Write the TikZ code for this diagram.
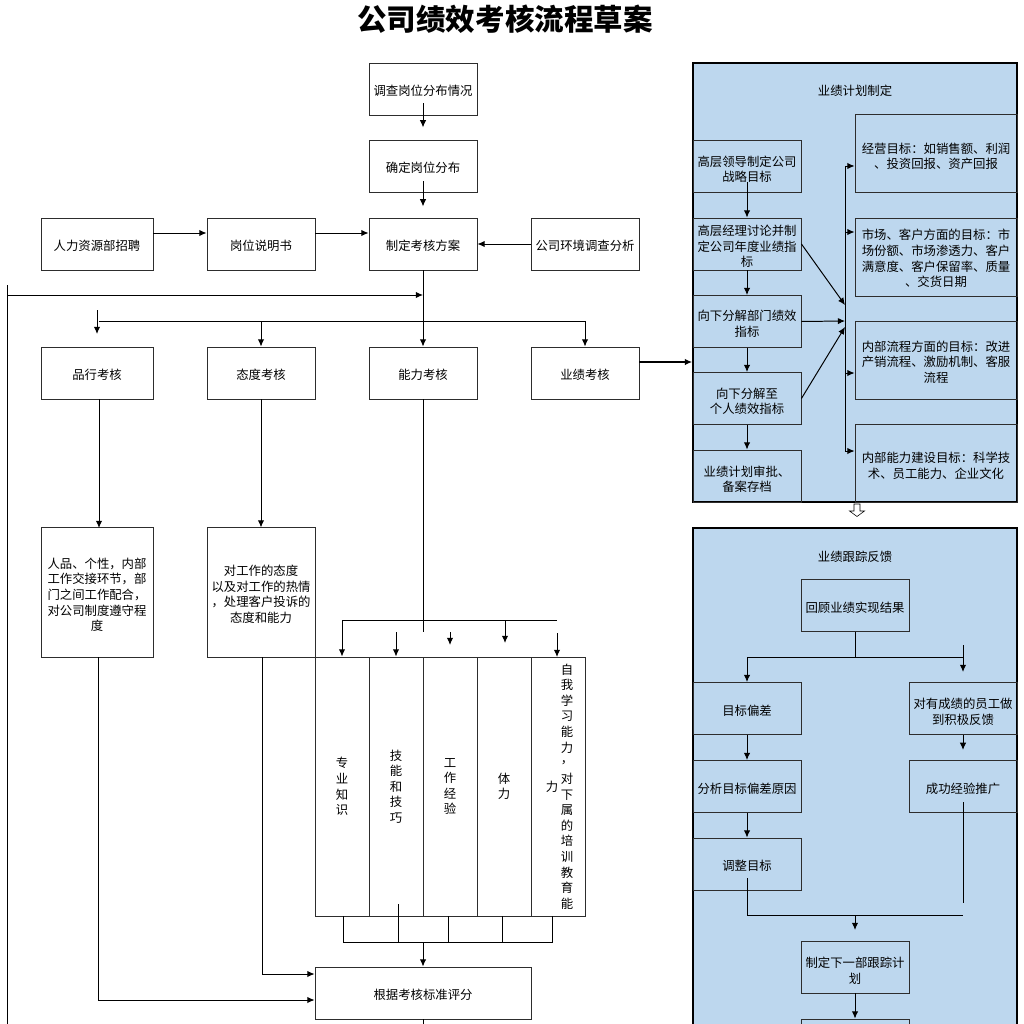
\documentclass[tikz,border=0pt]{standalone}
\usepackage{fontspec}
\setmainfont{Noto Sans CJK SC}
\usetikzlibrary{arrows.meta}
\definecolor{panelblue}{RGB}{189,215,238}
\definecolor{edgegray}{RGB}{45,45,45}
\tikzset{
  lift/.style={execute at begin node={\rule{0pt}{#1pt}}},
  box/.style={draw=edgegray,line width=0.6pt,minimum width=2.7cm,minimum height=1.3cm,inner sep=0pt,align=center,font=\fontsize{8.8}{11.1}\selectfont,lift=10.5},
  widebox/.style={box,minimum width=2.8cm},
  tallbox/.style={box,minimum height=3.23cm},
  colbox/.style={box,minimum width=1.35cm,minimum height=6.475cm},
  goalbox/.style={box,minimum width=4.05cm,minimum height=1.95cm},
  panel/.style={draw=black,line width=1.1pt,fill=panelblue,minimum width=8.1cm,inner sep=0pt},
  arr/.style={-{Latex[length=1.8mm,width=1.6mm]},line width=0.7pt,black},
  wire/.style={line width=0.7pt,black}
}
\begin{document}
\begin{tikzpicture}[x=0.025cm,y=-0.025cm]
  \useasboundingbox (0,0) rectangle (1024,1024);
  \clip (0,0) rectangle (1024,1024);
  \node[font=\fontsize{21}{24}\selectfont\bfseries] (title) at (505,19) {公司绩效考核流程草案};

  % blue panels
  \node[panel,minimum height=10.975cm] (planpanel) at (855,282.5) {};
  \node[panel,minimum height=16cm] (trackpanel) at (855,848) {};
  \node[font=\fontsize{8.8}{11.1}\selectfont] (plantitle) at (855,91) {业绩计划制定};
  \node[font=\fontsize{8.8}{11.1}\selectfont] (tracktitle) at (855,557) {业绩跟踪反馈};
  \draw[fill=white,line width=0.4pt] (854,504) -- (860,504) -- (860,511) -- (864.5,511) -- (857,516.5) -- (849.5,511) -- (854,511) -- cycle;

  % top of the flow
  \node[box] (survey) at (423,89) {调查岗位分布情况};
  \node[box] (confirm) at (423,166) {确定岗位分布};
  \node[widebox] (hire) at (97,244) {人力资源部招聘};
  \node[box] (jobdoc) at (261,244) {岗位说明书};
  \node[box] (scheme) at (423,244) {制定考核方案};
  \node[box] (enviro) at (585,244) {公司环境调查分析};

  % four kinds of assessment
  \node[widebox] (moral) at (97,373) {品行考核};
  \node[box] (attitude) at (261,373) {态度考核};
  \node[box] (ability) at (423,373) {能力考核};
  \node[box] (result) at (585,373) {业绩考核};
  \node[widebox,minimum height=3.23cm,lift=55] (moraltext) at (97,592.5) {人品、个性，内部\\工作交接环节，部\\门之间工作配合，\\对公司制度遵守程\\度};
  \node[tallbox,lift=43.5] (attitudetext) at (261,592.5) {对工作的态度\\以及对工作的热情\\，处理客户投诉的\\态度和能力};

  % ability columns
  \node[colbox] (colA) at (342,786.5) {专\\业\\知\\识};
  \node[colbox] (colB) at (396,786.5) {技\\能\\和\\技\\巧};
  \node[colbox] (colC) at (450,786.5) {工\\作\\经\\验};
  \node[colbox] (colD) at (504,786.5) {体\\力};
  \node[colbox] (colE) at (558,786.5) {};
  \node[align=center,inner sep=0pt,font=\fontsize{8.8}{11.1}\selectfont] (colEtext) at (567,786.5) {自\\我\\学\\习\\能\\力\\\raisebox{0.1cm}{，}\\对\\下\\属\\的\\培\\训\\教\\育\\能};
  \node[inner sep=0pt,font=\fontsize{8.8}{11.1}\selectfont] (colEtail) at (552,787) {力};
  \node[box,minimum width=5.4cm] (score) at (423,993) {根据考核标准评分};

  % planning panel
  \node[box,lift=23] (lead) at (747,166) {高层领导制定公司\\战略目标};
  \node[box,lift=33] (manager) at (747,244) {高层经理讨论并制\\定公司年度业绩指\\标};
  \node[box,lift=22] (dept) at (747,321.5) {向下分解部门绩效\\指标};
  \node[box,lift=22.5] (person) at (747,398.5) {向下分解至\\个人绩效指标};
  \node[box,lift=23] (archive) at (747,476) {业绩计划审批、\\备案存档};
  \node[goalbox,lift=23] (goalA) at (936,153) {经营目标：如销售额、利润\\、投资回报、资产回报};
  \node[goalbox,lift=43] (goalB) at (936,257) {市场、客户方面的目标：市\\场份额、市场渗透力、客户\\满意度、客户保留率、质量\\、交货日期};
  \node[goalbox,lift=32] (goalC) at (936,360.5) {内部流程方面的目标：改进\\产销流程、激励机制、客服\\流程};
  \node[goalbox,lift=22] (goalD) at (936,463.5) {内部能力建设目标：科学技\\术、员工能力、企业文化};

  % tracking panel
  \node[box] (review) at (855,605.5) {回顾业绩实现结果};
  \node[box] (gap) at (747,708.5) {目标偏差};
  \node[box] (cause) at (747,786.5) {分析目标偏差原因};
  \node[box] (adjust) at (747,864) {调整目标};
  \node[box,lift=23] (praise) at (963,708.5) {对有成绩的员工做\\到积极反馈};
  \node[box] (spread) at (963,786.5) {成功经验推广};
  \node[box,lift=23.5] (nextplan) at (855,967) {制定下一部跟踪计\\划};
  \node[box] (nextbox) at (855,1045) {};

  % connectors of the flow
  \draw[arr] (survey.south) ++(0,-12) -- ++(0,24);
  \draw[arr] (confirm.south) ++(0,-11) -- ++(0,25);
  \draw[arr] (hire.east |- 233,233) -- (jobdoc.west |- 233,233);
  \draw[arr] (jobdoc.east |- 233,233) -- (scheme.west |- 233,233);
  \draw[arr] (enviro.west) -- (scheme.east);
  \coordinate (busleft) at (99,321);
  \coordinate (busright) at (585,321);
  \coordinate (loopend) at (423,295);
  \draw[arr] (scheme.south) -- (ability.north);
  \draw[wire] (busleft) -- (busright);
  \draw[arr] (busright) -- (result.north);
  \draw[arr] (attitude.north |- busleft) -- (attitude.north);
  \draw[arr] (97,310) -- (97,334);
  \draw[wire] (7,1030) -- (7,285);
  \draw[arr] (7,295) -- (loopend);
  \draw[arr,line width=1.4pt] (result.east) ++(0,-11) -- (planpanel.west |- 639,362);
  \draw[arr] (99,399) -- (99,528);
  \draw[arr] (attitude.south) -- (attitudetext.north);

  % feed into the columns
  \draw[wire] (ability.south) -- (423,632);
  \draw[wire] (342,620) -- (557,620);
  \draw[arr] (342,620) -- (colA.north);
  \draw[arr] (396,632) -- (colB.north);
  \draw[arr] (450,632) -- (450,645);
  \draw[arr] (505,620) -- (505,643);
  \draw[arr] (557,633) -- (557,657);
  \draw[wire] (343,916) -- (343,942) -- (552,942) -- (552,916);
  \draw[wire] (398,904) -- (398,942);
  \draw[wire] (448,916) -- (448,942);
  \draw[wire] (502,916) -- (502,942);
  \draw[arr] (423,942) -- (score.north);
  \draw[wire] (score.south) -- ++(0,10);
  \draw[arr] (262,657) -- (262,974) -- (score.west |- 262,974);
  \draw[arr] (98,657) -- (98,1000) -- (score.west |- 98,1000);

  % connectors of the planning panel
  \draw[arr] (lead.south) ++(0,-10) -- (manager.north);
  \draw[arr] (manager.south) -- (dept.north);
  \draw[arr] (dept.south) -- (person.north);
  \draw[arr] (person.south) -- (archive.north);
  \coordinate (goalbus) at (845,321);
  \draw[wire] (845,166) -- (845,451);
  \draw[arr] (845,166) -- (goalA.west |- 845,166);
  \draw[arr] (845,232) -- (goalB.west |- 845,232);
  \draw[arr] (845,373) -- (goalC.west |- 845,373);
  \draw[arr] (845,451) -- (goalD.west |- 845,451);
  \draw[arr] (manager.east) -- (845,305);
  \draw[arr] (dept.east) -- (goalbus);
  \draw[arr] (person.east) -- (845,327);

  % connectors of the tracking panel
  \coordinate (splitleft) at (747,657);
  \coordinate (splitright) at (963,657);
  \draw[wire] (review.south) -- (855,657);
  \draw[wire] (splitleft) -- (splitright);
  \draw[arr] (splitleft) -- (gap.north);
  \draw[arr] (963,645) -- (963,672);
  \draw[arr] (gap.south) -- (cause.north);
  \draw[arr] (cause.south) -- (adjust.north);
  \draw[arr] (praise.south) -- ++(0,15);
  \draw[wire] (963,802) -- (963,903);
  \coordinate (joinmid) at (855,915);
  \draw[wire] (747,878) -- (747,915) -- (963,915);
  \draw[arr] (joinmid) -- ++(0,15);
  \draw[arr] (nextplan.south) -- (nextbox.north);
\end{tikzpicture}
\end{document}
